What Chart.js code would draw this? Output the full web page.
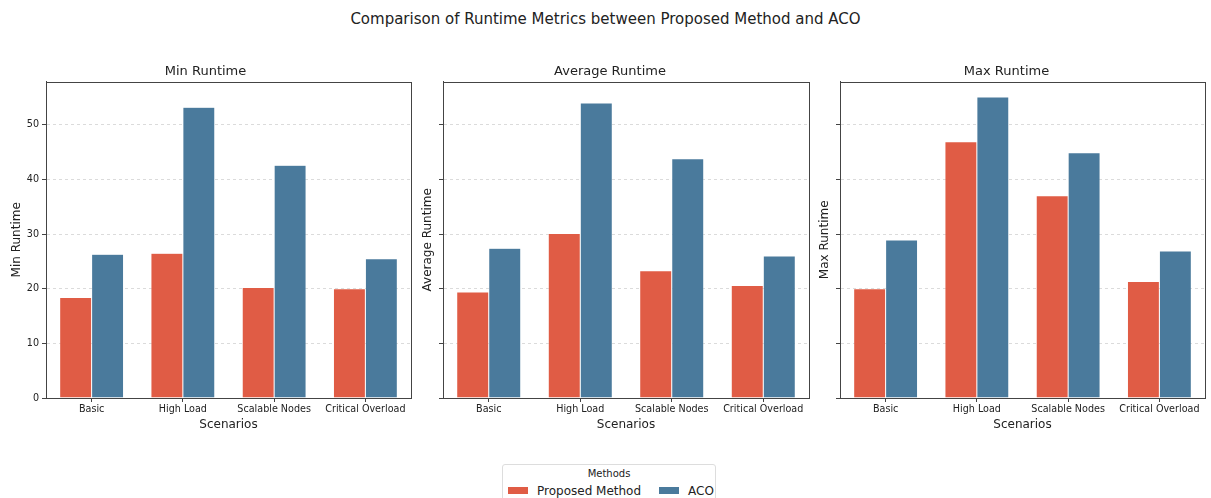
<!DOCTYPE html>
<html>
<head>
<meta charset="utf-8">
<script src="https://cdn.jsdelivr.net/npm/chart.js@4.4.1/dist/chart.umd.min.js"></script>
<style>
  body { margin:0; width:1211px; height:498px; overflow:hidden; background:#fff; font-family:"DejaVu Sans", sans-serif; position:relative; }
  #suptitle { position:absolute; left:0; width:1211px; top:10px; text-align:center; font-size:15px; color:#222; }
  .panel { position:absolute; top:56px; height:378px; }
  #legend { position:absolute; left:502px; top:464px; width:214px; height:40px; border:1px solid #ddd; border-radius:3px; box-sizing:border-box; font-size:12px; color:#222; }
  #legend .ttl { text-align:center; font-size:10px; margin-top:3px; }
  #legend .item { position:absolute; top:19px; white-space:nowrap; }
  #legend .sw { display:inline-block; width:20px; height:7px; vertical-align:middle; margin-right:9px; position:relative; top:-1px; }
</style>
</head>
<body>
<div id="suptitle">Comparison of Runtime Metrics between Proposed Method and ACO</div>
<div class="panel" style="left:0px;width:413px"><canvas id="c0"></canvas></div>
<div class="panel" style="left:411px;width:400px"><canvas id="c1"></canvas></div>
<div class="panel" style="left:808px;width:399px"><canvas id="c2"></canvas></div>
<div id="legend">
  <div class="ttl">Methods</div>
  <div class="item" style="left:5px"><span class="sw" style="background:#e05c45"></span>Proposed Method</div>
  <div class="item" style="left:156px"><span class="sw" style="background:#4a7a9c"></span>ACO</div>
</div>
<script>
var scenarios = ['Basic', 'High Load', 'Scalable Nodes', 'Critical Overload'];
var methods = ['Proposed Method', 'ACO'];
var metricNames = ['Min Runtime', 'Average Runtime', 'Max Runtime'];

var minProposed = [18.4, 26.5, 20.2, 20.0];
var minACO      = [26.3, 53.2, 42.6, 25.5];
var avgProposed = [19.4, 30.1, 23.3, 20.6];
var avgACO      = [27.4, 54.0, 43.8, 26.0];
var maxProposed = [20.0, 46.9, 37.0, 21.3];
var maxACO      = [28.9, 55.1, 44.9, 26.9];
var yTicks = [0, 10, 20, 30, 40, 50];

var colors = ['#e05c45', '#4a7a9c'];
var series = [[minProposed, minACO], [avgProposed, avgACO], [maxProposed, maxACO]];
var yw = [46, 32, 32];

// frame around the plot area (matplotlib spines)
var framePlugin = {
  id: 'frame',
  afterDraw: function(chart) {
    var a = chart.chartArea, ctx = chart.ctx;
    ctx.save();
    ctx.setLineDash([]);
    ctx.strokeStyle = '#444';
    ctx.lineWidth = 1;
    ctx.strokeRect(Math.round(a.left) + 0.5, Math.round(a.top) + 0.5, Math.round(a.right - a.left), Math.round(a.bottom - a.top));
    ctx.restore();
  }
};

for (var i = 0; i < 3; i++) {
  (function(i) {
    var ctx = document.getElementById('c' + i);
    new Chart(ctx, {
      type: 'bar',
      data: {
        labels: scenarios,
        datasets: [0, 1].map(function(k) {
          return {
            label: methods[k],
            data: series[i][k],
            backgroundColor: colors[k],
            borderColor: 'rgba(255,255,255,0.5)',
            borderWidth: 0.5,
            categoryPercentage: 0.7,
            barPercentage: 1.0
          };
        })
      },
      plugins: [framePlugin],
      options: {
        responsive: true,
        maintainAspectRatio: false,
        animation: false,
        layout: { padding: { top: 0, right: 2, left: 0, bottom: 0 } },
        plugins: {
          legend: { display: false },
          tooltip: { enabled: false },
          title: {
            display: true,
            text: metricNames[i],
            color: '#222',
            font: { family: 'DejaVu Sans', size: 13, weight: 'normal' },
            padding: { top: 8, bottom: 2 }
          }
        },
        scales: {
          x: {
            border: { display: true, color: '#444' },
            grid: { display: true, drawOnChartArea: false, drawTicks: true, offset: false, tickLength: 4, tickColor: '#444' },
            ticks: { color: '#222', font: { family: 'DejaVu Sans', size: 9.6 }, padding: 2, maxRotation: 0, autoSkip: false },
            title: { display: true, text: 'Scenarios', color: '#222', font: { family: 'DejaVu Sans', size: 12 }, padding: { top: 2, bottom: 2 } },
            afterFit: function(s) { s.height = 36; }
          },
          y: {
            min: 0,
            max: 57.9,
            border: { display: true, color: '#444', dash: [3, 3] },
            grid: { color: 'rgba(0,0,0,0.14)', tickColor: '#444', tickLength: 4, tickBorderDash: [] },
            afterBuildTicks: function(s) { s.ticks = yTicks.map(function(v) { return { value: v }; }); },
            ticks: {
              includeBounds: false,
              color: '#222',
              font: { family: 'DejaVu Sans', size: 9.6 },
              padding: 3,
              callback: function(v) { return i === 0 ? v : ''; }
            },
            title: { display: true, text: metricNames[i], color: '#222', font: { family: 'DejaVu Sans', size: 12 }, padding: { top: 10, bottom: 4 } },
            afterFit: function(s) { s.width = yw[i]; }
          }
        }
      }
    });
  })(i);
}
</script>
</body>
</html>
